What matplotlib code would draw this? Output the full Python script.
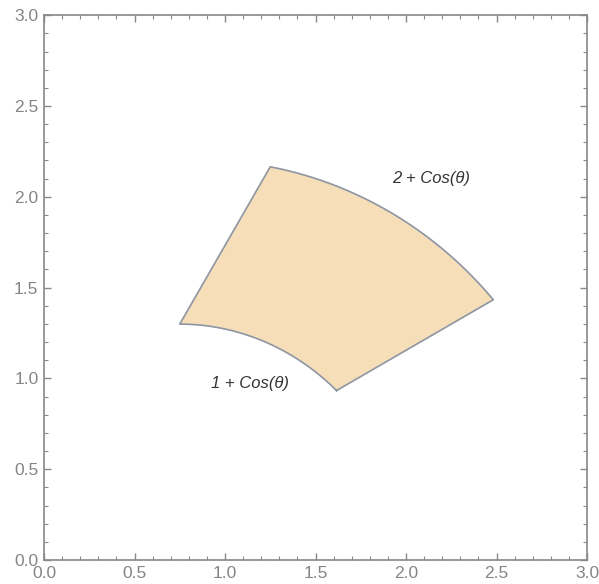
import numpy as np
from matplotlib import pyplot as plt

# polar region: theta range and radius offsets of the bounding curves r = c + cos(theta)
theta_range = [np.pi / 6, np.pi / 3]
inner_offset = 1
outer_offset = 2

curve_labels = ["1 + Cos(\u03b8)", "2 + Cos(\u03b8)"]
label_pos = [(1.14, 0.97), (2.14, 2.10)]

ticks = [0.0, 0.5, 1.0, 1.5, 2.0, 2.5, 3.0]


def region_outline(n=200):
    t = np.linspace(theta_range[0], theta_range[1], n)
    r_in = inner_offset + np.cos(t)
    r_out = outer_offset + np.cos(t)
    xs = np.concatenate([r_in * np.cos(t), (r_out * np.cos(t))[::-1]])
    ys = np.concatenate([r_in * np.sin(t), (r_out * np.sin(t))[::-1]])
    return np.append(xs, xs[0]), np.append(ys, ys[0])


fig = plt.figure(figsize=(5.99, 5.84), dpi=100)
ax = fig.add_axes([0.0735, 0.0411, 0.9065, 0.9329])

x, y = region_outline()
ax.fill(x, y, color="#f5deb8", zorder=1)
ax.plot(x, y, color="#8e97a6", lw=1.2, zorder=2)

for text, (tx, ty) in zip(curve_labels, label_pos):
    ax.text(tx, ty, text, ha="center", va="center", fontsize=12,
            style="italic", color="#333333", family="Liberation Sans")

ax.set_xlim(0, 3)
ax.set_ylim(0, 3)
ax.set_xticks(ticks)
ax.set_yticks(ticks)
ax.set_xticks(np.arange(0, 3.01, 0.1), minor=True)
ax.set_yticks(np.arange(0, 3.01, 0.1), minor=True)
ax.set_xticklabels([f"{v:.1f}" for v in ticks])
ax.set_yticklabels([f"{v:.1f}" for v in ticks])

ax.tick_params(which="both", direction="in", top=True, right=True,
               color="#888888", labelcolor="#858585", labelsize=12.5)
ax.tick_params(which="major", length=5, width=1)
ax.tick_params(which="minor", length=3, width=0.8)
ax.tick_params(axis="x", pad=4)
ax.tick_params(axis="y", pad=4)
for lbl in ax.get_xticklabels() + ax.get_yticklabels():
    lbl.set_family("Liberation Sans")
for sp in ax.spines.values():
    sp.set_color("#888888")
    sp.set_linewidth(1.2)

fig.savefig("out.png", dpi=100)
